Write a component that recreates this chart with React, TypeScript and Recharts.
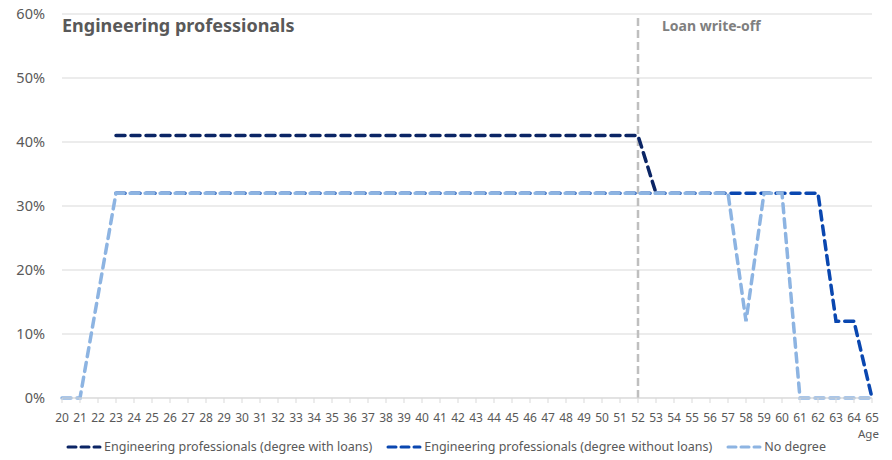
import React from "react"
import { LineChart, Line, XAxis, YAxis, CartesianGrid, ReferenceLine } from "recharts"

const ages = [20, 21, 22, 23, 24, 25, 26, 27, 28, 29, 30, 31, 32, 33, 34, 35, 36, 37, 38, 39, 40, 41, 42, 43, 44, 45, 46, 47, 48, 49, 50, 51, 52, 53, 54, 55, 56, 57, 58, 59, 60, 61, 62, 63, 64, 65]

// % of cohort
const withLoans = [null, null, null, 41, 41, 41, 41, 41, 41, 41, 41, 41, 41, 41, 41, 41, 41, 41, 41, 41, 41, 41, 41, 41, 41, 41, 41, 41, 41, 41, 41, 41, 41, 32, null, null, null, null, null, null, null, null, null, null, null, null]
const withoutLoans = [null, null, null, 32, 32, 32, 32, 32, 32, 32, 32, 32, 32, 32, 32, 32, 32, 32, 32, 32, 32, 32, 32, 32, 32, 32, 32, 32, 32, 32, 32, 32, 32, 32, 32, 32, 32, 32, 32, 32, 32, 32, 32, 12, 12, 0]
const noDegree = [0, 0, 16, 32, 32, 32, 32, 32, 32, 32, 32, 32, 32, 32, 32, 32, 32, 32, 32, 32, 32, 32, 32, 32, 32, 32, 32, 32, 32, 32, 32, 32, 32, 32, 32, 32, 32, 32, 12, 32, 32, 0, 0, 0, 0, 0]

const yTicks = [0, 10, 20, 30, 40, 50, 60]

const seriesNames = [
  "Engineering professionals (degree with loans)",
  "Engineering professionals (degree without loans)",
  "No degree",
]
const colors = ["#0b2565", "#0a47b0", "#8db4e2"]

const font = "'Noto Sans', sans-serif"
const grey = "#595959"

const data = ages.map((age, i) => ({
  age,
  withLoans: withLoans[i],
  withoutLoans: withoutLoans[i],
  noDegree: noDegree[i],
}))

function LoanLabel(props: any) {
  const vb = props.viewBox || {}
  return (
    <text x={vb.x + 24} y={vb.y + 17} fill="#7f7f7f" fontSize={14} fontWeight="bold" fontFamily={font}>
      Loan write-off
    </text>
  )
}

function YTick({ y, payload }: any) {
  return (
    <text x={45} y={y} dy={5} textAnchor="end" fill={grey} fontSize={14.5} fontFamily={font}>
      {payload.value + "%"}
    </text>
  )
}

export default function App() {
  return (
    <div style={{ position: "absolute", left: 0, top: 0, width: 892, height: 460, background: "#fff", fontFamily: font }}>
      <LineChart width={892} height={460} data={data} margin={{ top: 14, right: 20, bottom: 32, left: 12 }}>
        <CartesianGrid vertical={false} stroke="#d9d9d9" />
        <XAxis
          dataKey="age"
          interval={0}
          tickSize={5}
          tickMargin={10}
          height={30}
          stroke="#d9d9d9"
          tick={{ fill: grey, fontSize: 12, fontFamily: font }}
        />
        <YAxis domain={[0, 60]} ticks={yTicks} width={50} axisLine={false} tickLine={false} tick={<YTick />} />
        <ReferenceLine x={52} stroke="#bfbfbf" strokeWidth={2.5} strokeDasharray="8 4" label={<LoanLabel />} />
        <Line dataKey="withLoans" stroke={colors[0]} strokeWidth={3.5} strokeDasharray="9 6" strokeLinecap="round" dot={false} isAnimationActive={false} />
        <Line dataKey="withoutLoans" stroke={colors[1]} strokeWidth={3.5} strokeDasharray="9 6" strokeLinecap="round" dot={false} isAnimationActive={false} />
        <Line dataKey="noDegree" stroke={colors[2]} strokeWidth={3.5} strokeDasharray="9 6" strokeLinecap="round" dot={false} isAnimationActive={false} />
      </LineChart>

      <div style={{ position: "absolute", left: 62, top: 13, fontSize: 18, fontWeight: "bold", color: grey }}>
        Engineering professionals
      </div>
      <div style={{ position: "absolute", left: 858, top: 426, fontSize: 11.5, color: grey }}>Age</div>

      <div style={{ position: "absolute", left: 0, top: 438, width: 892, display: "flex", justifyContent: "center", gap: 14, fontSize: 12.5, color: grey }}>
        {seriesNames.map((name, i) => (
          <div key={name} style={{ display: "flex", alignItems: "center" }}>
            <svg width={36} height={10} style={{ marginRight: 2 }}>
              <line x1={2} y1={5} x2={34} y2={5} stroke={colors[i]} strokeWidth={3} strokeDasharray="8 5" strokeLinecap="round" />
            </svg>
            <span>{name}</span>
          </div>
        ))}
      </div>
    </div>
  )
}
